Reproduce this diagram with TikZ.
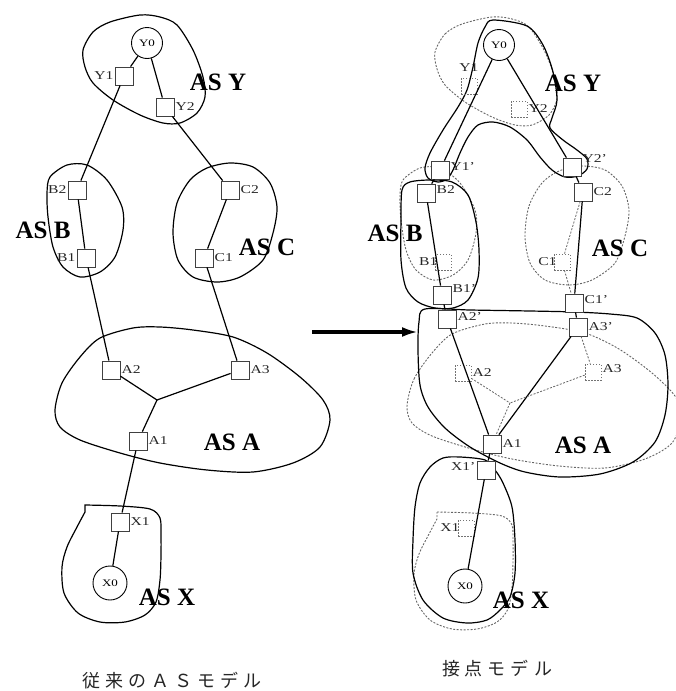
\documentclass[tikz,border=0pt]{standalone}
\usepackage{fontspec}
\setmainfont{Liberation Serif}
\newfontfamily\cjkfont{Noto Sans CJK JP}
\usetikzlibrary{arrows.meta,backgrounds}
\newcommand\mywide[1]{\scalebox{1.3}[1]{#1}}
\newcommand\cjsp{\hspace{5pt}}
\tikzset{
  sq/.style={draw=black!75, line width=0.8pt, fill=white, minimum size=18pt, inner sep=0pt},
  dsq/.style={draw=black!55, line width=0.7pt, dash pattern=on 1.5pt off 1.5pt, minimum size=16pt, inner sep=0pt},
  nd/.style={circle, draw=black, line width=0.9pt, fill=white, minimum size=31pt, inner sep=0pt, font=\fontsize{10}{10}\selectfont},
  lb/.style={font=\fontsize{12}{12}\selectfont, inner sep=1pt, text=black!85},
  asl/.style={font=\fontsize{25}{25}\selectfont\bfseries, inner sep=0pt},
  lk/.style={line width=1.2pt},
  dlk/.style={line width=0.8pt, black!60, dash pattern=on 2pt off 1.5pt},
  bd/.style={line width=1.2pt},
  dbd/.style={line width=0.9pt, black!60, dash pattern=on 2pt off 1.5pt},
  captxt/.style={font=\cjkfont\fontsize{18}{18}\selectfont, inner sep=0pt, text=black!85}
}
\newcommand\drawASY[1]{\draw[#1] plot[smooth cycle] coordinates {(83,50) (93,32) (110,22) (140,15) (160,17) (177,25) (193,50) (203,77) (205,97) (197,113) (180,123) (163,123) (140,115) (113,100) (93,83) (85,67)};}
\newcommand\drawASB[1]{\draw[#1] plot[smooth cycle] coordinates {(50,177) (67,165) (87,165) (107,180) (122,207) (123,230) (115,257) (100,272) (80,277) (63,267) (53,247) (48,217) (47,193)};}
\newcommand\drawASC[1]{\draw[#1] plot[smooth cycle] coordinates {(173,233) (177,203) (190,180) (207,168) (230,163) (253,167) (270,183) (277,207) (273,233) (263,260) (240,277) (217,282) (193,277) (178,260)};}
\newcommand\drawASA[1]{\draw[#1] plot[smooth cycle] coordinates {(55,410) (62,383) (80,357) (100,338) (133,328) (160,327) (193,330) (233,337) (267,353) (300,377) (323,400) (330,420) (320,447) (293,463) (253,472) (207,470) (160,463) (120,453) (80,440) (60,427)};}
\newcommand\drawASX[1]{\draw[#1] plot[smooth] coordinates {(85,505) (120,506) (150,509) (160,518) (161,535) (161,555) (160,580) (156,602) (145,615) (125,622) (100,622) (78,613) (64,593) (62,567) (67,547) (77,527) (85,512)} -- cycle;}
\begin{document}
\begin{tikzpicture}[x=1pt,y=-1pt]
\useasboundingbox (0,0) rectangle (676,691);

% ===== left: conventional AS model =====
\node[nd] (Y0) at (147,43) {\mywide{Y0}};
\node[sq] (Y1) at (124,76) {};
\node[sq] (Y2) at (165,107) {};
\node[sq] (B2) at (77,190) {};
\node[sq] (B1) at (86,258) {};
\node[sq] (C2) at (230,190) {};
\node[sq] (C1) at (204,258) {};
\node[sq] (A2) at (111,370) {};
\node[sq] (A3) at (240,370) {};
\coordinate (J) at (157,400);
\node[sq] (A1) at (138,441) {};
\node[sq] (X1) at (120,522) {};
\node[nd, minimum size=34pt] (X0) at (110,583) {\mywide{X0}};

\node[lb,anchor=east] (lY1) at (Y1.west) {\mywide{Y1}};
\node[lb,anchor=west] (lY2) at (Y2.east) {\mywide{Y2}};
\node[lb,anchor=east] (lB2) at (B2.west) {\mywide{B2}};
\node[lb,anchor=east] (lB1) at (B1.west) {\mywide{B1}};
\node[lb,anchor=west] (lC2) at (C2.east) {\mywide{C2}};
\node[lb,anchor=west] (lC1) at (C1.east) {\mywide{C1}};
\node[lb,anchor=west] (lA2) at (A2.east) {\mywide{A2}};
\node[lb,anchor=west] (lA3) at (A3.east) {\mywide{A3}};
\node[lb,anchor=west] (lA1) at (A1.east) {\mywide{A1}};
\node[lb,anchor=west] (lX1) at (X1.east) {\mywide{X1}};

\node[asl] (tY) at (218,82) {AS Y};
\node[asl] (tB) at (43,230) {AS B};
\node[asl] (tC) at (267,247) {AS C};
\node[asl] (tA) at (232,442) {AS A};
\node[asl] (tX) at (167,597) {AS X};

\draw[lk] (Y0) -- (Y1);
\draw[lk] (Y0) -- (Y2);
\draw[lk] (Y1) -- (B2);
\draw[lk] (Y2) -- (C2);
\draw[lk] (B2) -- (B1);
\draw[lk] (C2) -- (C1);
\draw[lk] (B1) -- (A2);
\draw[lk] (C1) -- (A3);
\draw[lk] (A2) -- (J);
\draw[lk] (A3) -- (J);
\draw[lk] (J) -- (A1);
\draw[lk] (A1) -- (X1);
\draw[lk] (X1) -- (X0);

% ===== right: contact point model =====
\node[nd] (rY0) at (499,45) {\mywide{Y0}};
\node[dsq] (rY1) at (469,86) {};
\node[dsq] (rY2) at (519,109) {};
\node[sq] (Y1p) at (440,170) {};
\node[sq] (Y2p) at (572,167) {};
\node[sq] (rB2) at (426,193) {};
\node[dsq] (rB1) at (443,262) {};
\node[sq] (B1p) at (442,295) {};
\node[sq] (A2p) at (447,319) {};
\node[sq] (rC2) at (583,192) {};
\node[dsq] (rC1) at (562,262) {};
\node[sq] (C1p) at (574,303) {};
\node[sq] (A3p) at (578,327) {};
\node[dsq] (rA2) at (463,373) {};
\node[dsq] (rA3) at (593,372) {};
\coordinate (rJ) at (510,403);
\node[sq] (rA1) at (492,444) {};
\node[sq] (X1p) at (486,470) {};
\node[dsq] (rX1) at (466,528) {};
\node[nd, minimum size=34pt] (rX0) at (465,586) {\mywide{X0}};

\node[lb] (lrY1) at (469,68) {\mywide{Y1}};
\node[lb,anchor=west] (lrY2) at (rY2.east) {\mywide{Y2}};
\node[lb,anchor=west] (lY1p) at ([yshift=3pt]Y1p.east) {\mywide{Y1'}};
\node[lb,anchor=south west] (lY2p) at ([yshift=-6pt]Y2p.north east) {\mywide{Y2'}};
\node[lb,anchor=west] (lrB2) at ([yshift=3pt]rB2.east) {\mywide{B2}};
\node[lb,anchor=east] (lrB1) at ([xshift=4pt]rB1.west) {\mywide{B1}};
\node[lb,anchor=south west] (lB1p) at ([yshift=-8pt]B1p.north east) {\mywide{B1'}};
\node[lb,anchor=west] (lA2p) at ([yshift=2pt]A2p.east) {\mywide{A2'}};
\node[lb,anchor=west] (lrC2) at (rC2.east) {\mywide{C2}};
\node[lb,anchor=east] (lrC1) at ([xshift=4pt]rC1.west) {\mywide{C1}};
\node[lb,anchor=west] (lC1p) at ([yshift=3pt]C1p.east) {\mywide{C1'}};
\node[lb,anchor=west] (lA3p) at (A3p.east) {\mywide{A3'}};
\node[lb,anchor=west] (lrA2) at (rA2.east) {\mywide{A2}};
\node[lb,anchor=west] (lrA3) at ([yshift=3pt]rA3.east) {\mywide{A3}};
\node[lb,anchor=west] (lrA1) at (rA1.east) {\mywide{A1}};
\node[lb,anchor=east] (lX1p) at ([yshift=3pt]X1p.west) {\mywide{X1'}};
\node[lb,anchor=east] (lrX1) at ([xshift=3pt]rX1.west) {\mywide{X1}};

\node[asl] (trY) at (573,83) {AS Y};
\node[asl] (trB) at (395,233) {AS B};
\node[asl] (trC) at (620,248) {AS C};
\node[asl] (trA) at (583,445) {AS A};
\node[asl] (trX) at (521,600) {AS X};

\draw[lk] (rY0) -- (Y1p);
\draw[lk] (rY0) -- (Y2p);
\draw[lk] (Y1p) -- (rB2);
\draw[lk] (Y2p) -- (rC2);
\draw[lk] (rB2) -- (B1p);
\draw[lk] (B1p) -- (A2p);
\draw[lk] (rC2) -- (C1p);
\draw[lk] (C1p) -- (A3p);
\draw[lk] (A2p) -- (rA1);
\draw[lk] (A3p) -- (rA1);
\draw[lk] (rA1) -- (X1p);
\draw[lk] (X1p) -- (rX0);
\draw[dlk] (rC2) -- (rC1);
\draw[dlk] (rC1) -- (C1p);
\draw[dlk] (A3p) -- (rA3);
\draw[dlk] (rA2) -- (rJ);
\draw[dlk] (rA3) -- (rJ);
\draw[dlk] (rJ) -- (rA1);

% arrow
\coordinate (aS) at (312,332);
\coordinate (aE) at (418,332);
\draw[line width=3.5pt, -{Latex[length=16pt,width=10pt]}] (aS) -- (aE);

% captions
\node[captxt] (capL) at (172,681) {従\cjsp 来\cjsp の\cjsp Ａ\cjsp Ｓ\cjsp モ\cjsp デ\cjsp ル};
\node[captxt] (capR) at (497,669) {接\cjsp 点\cjsp モ\cjsp デ\cjsp ル};

\begin{pgfonlayer}{background}
  % left boundaries
  \drawASY{bd}
  \drawASB{bd}
  \drawASC{bd}
  \drawASA{bd}
  \drawASX{bd}
  % right: original boundaries (dashed)
  \begin{scope}[shift={(352,2)}]\drawASY{dbd}\end{scope}
  \begin{scope}[shift={(353,3)}]\drawASB{dbd}\end{scope}
  \begin{scope}[shift={(352,3)}]\drawASC{dbd}\end{scope}
  \begin{scope}[shift={(352,-4)}]\drawASA{dbd}\end{scope}
  \begin{scope}[shift={(352,7)}]\drawASX{dbd}\end{scope}
  % right: new boundaries (solid)
  \draw[bd] plot[smooth cycle] coordinates {(493,20) (527,26) (543,45) (553,72) (557,100) (552,118) (550,128) (563,140) (577,150) (587,159) (587,169) (578,176) (565,177) (552,170) (540,157) (527,140) (510,127) (493,122) (478,125) (468,137) (460,153) (453,170) (447,179) (438,182) (428,178) (425,168) (430,153) (443,130) (458,107) (467,90) (473,67) (478,43) (485,27)};
  \draw[bd] plot[smooth cycle] coordinates {(402,190) (410,182) (430,180) (452,182) (468,195) (476,222) (479,250) (478,278) (468,300) (453,308) (435,308) (418,302) (406,288) (401,260) (401,220)};
  \draw[bd] plot[smooth cycle] coordinates {(425,309) (470,310) (530,311) (575,312) (610,314) (637,318) (655,333) (665,355) (668,385) (665,415) (655,442) (633,462) (600,474) (560,477) (525,472) (500,463) (470,447) (445,428) (428,407) (420,385) (418,350) (419,322)};
  \draw[bd] plot[smooth cycle] coordinates {(460,457) (443,458) (430,467) (420,483) (415,507) (413,540) (413,573) (423,600) (443,618) (467,623) (487,620) (500,610) (510,597) (515,573) (515,540) (512,507) (503,483) (495,470) (485,460)};
\end{pgfonlayer}
\end{tikzpicture}
\end{document}
